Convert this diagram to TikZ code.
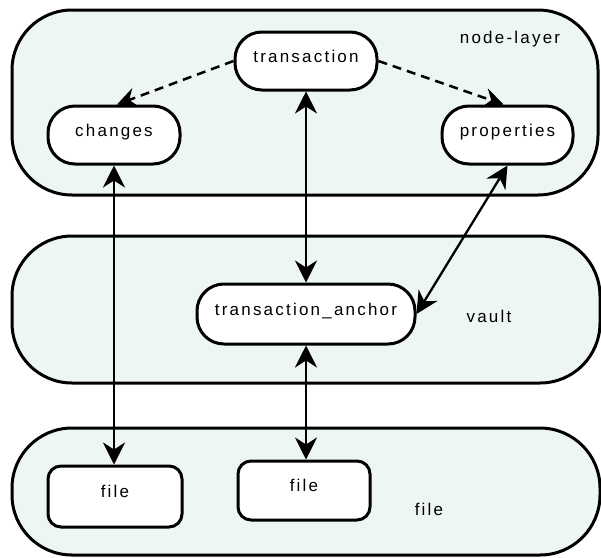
\documentclass[tikz,border=0pt]{standalone}
\usepackage{fontspec}
\setmainfont[LetterSpace=13]{Liberation Sans}
\usetikzlibrary{arrows.meta}
\definecolor{layerfill}{HTML}{EDF5F5}
\tikzset{
  bigtip/.tip={Stealth[length=22pt, width=22pt, inset=7pt]},
  layer/.style={draw=black, line width=3pt, fill=layerfill, rounded corners=60pt, inner sep=0pt},
  pill/.style={draw=black, line width=3pt, fill=white, rounded corners=27pt, inner sep=0pt,
    font=\fontsize{17pt}{20pt}\selectfont, text height=12pt, text depth=10pt},
  filebox/.style={draw=black, line width=3pt, fill=white, rounded corners=13pt, inner sep=0pt,
    font=\fontsize{17pt}{20pt}\selectfont, text height=12pt, text depth=10pt},
  layername/.style={font=\fontsize{17pt}{20pt}\selectfont, inner sep=0pt, anchor=base},
  link/.style={line width=2.3pt, bigtip-bigtip},
  weak/.style={line width=2.5pt, dash pattern=on 9pt off 6pt, -{Stealth[length=20pt, width=20pt, inset=7pt]}}
}
\begin{document}
\begin{tikzpicture}[x=1pt, y=-1pt]
  \useasboundingbox (0,0) rectangle (601,557);

  % layer containers
  \node[layer, minimum width=586pt, minimum height=185pt] (nodelayer) at (305,102.5) {};
  \node[layer, minimum width=588pt, minimum height=147pt] (vault) at (306,309.5) {};
  \node[layer, minimum width=588pt, minimum height=127pt] (filelayer) at (306,491.5) {};

  \node[layername] (nodelayerlbl) at (510,43) {node-layer};
  \node[layername] (vaultlbl) at (489,322) {vault};
  \node[layername] (filelbl) at (429,515) {file};

  % objects
  \node[pill, minimum width=142pt, minimum height=58pt] (transaction) at (306,61) {transaction};
  \node[pill, minimum width=132pt, minimum height=58pt] (changes) at (114,135) {changes};
  \node[pill, minimum width=131pt, minimum height=58pt] (properties) at (507.5,135) {properties};
  \node[pill, minimum width=218pt, minimum height=60pt] (anchor) at (306,314) {transaction\_anchor};
  \node[filebox, minimum width=134pt, minimum height=61pt] (file1) at (115,496.5) {file};
  \node[filebox, minimum width=132pt, minimum height=59pt] (file2) at (304,490.5) {file};

  % references
  \draw[weak] (transaction.west) -- ([xshift=3pt]changes.north);
  \draw[weak] (transaction.east) -- ([xshift=-4pt]properties.north);

  \draw[link] (changes.south) -- (changes.south |- file1.north);
  \draw[link] (transaction.south) -- (transaction.south |- anchor.north);
  \draw[link] (properties.south) -- (anchor.east);
  \draw[link] (anchor.south) -- (anchor.south |- file2.north);
\end{tikzpicture}
\end{document}
